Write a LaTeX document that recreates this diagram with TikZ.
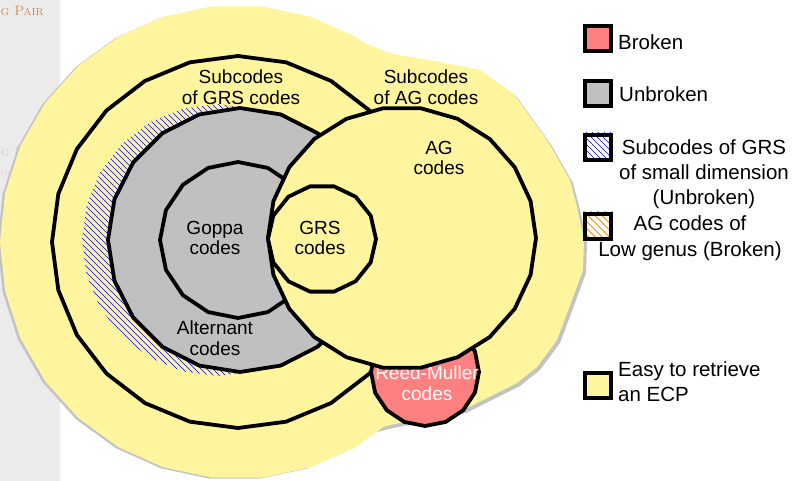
\documentclass[tikz,border=0pt]{standalone}
\usepackage{fontspec}
\newfontfamily\hv{Liberation Sans}
\definecolor{ecpyellow}{RGB}{255,245,158}
\definecolor{unbrgrey}{RGB}{192,192,192}
\definecolor{brokenred}{RGB}{255,128,128}
\definecolor{sidebar}{RGB}{235,235,235}
\definecolor{shadowgrey}{RGB}{195,195,195}
\definecolor{hatchorange}{RGB}{255,140,0}
\definecolor{sidetan}{RGB}{200,140,90}
\definecolor{sidefaint}{RGB}{222,205,190}
\definecolor{sideorange}{RGB}{210,135,85}
\begin{document}
\begin{tikzpicture}[x=1pt,y=-1pt,
  outl/.style={line width=3.8pt, line join=round},
  lab/.style={font=\hv\fontsize{19}{20.5}\selectfont, align=center, inner sep=0pt},
  leg/.style={font=\hv\fontsize{20.5}{25}\selectfont, inner sep=0pt},
  legbox/.style={draw, line width=4pt, minimum width=26pt, minimum height=25pt, inner sep=0pt},
  hline/.style={line width=0.55pt},
  sidetxt/.style={inner sep=0pt, font=\fontsize{13.5}{16}\selectfont}
]
\useasboundingbox (0,0) rectangle (800,481);
% sidebar
\fill[sidebar] (0,0) rectangle (60,481);
\node[sidetxt, anchor=base west, text=sidetan] (sb1) at (0.5,16) {\textsc{g Pair}};
\node[sidetxt, anchor=base west, text=sidefaint] (sb2) at (0.5,157) {\textsc{g P}};
\node[sidetxt, anchor=base west, text=sidefaint, font=\fontsize{8}{9}\selectfont] (sb3) at (0.5,176) {\textsc{fo}};
\node[sidetxt, anchor=base west, text=sideorange, font=\fontsize{9}{10}\selectfont] (sb4) at (0.5,209) {-I};
% shadows
\fill[shadowgrey, shift={(-2.5,1)}] plot[domain=0:348, samples=30] ({237+237*cos(\x)},{242+237*sin(\x)}) -- cycle;
\fill[shadowgrey, shift={(3,3)}] (300,30) -- (345,38) -- (372,46) -- (392,54) -- (440,62) -- (480,70) -- (513,93) -- (547,140) -- (570,180) -- (577,207) -- (584,240) -- (583,270) -- (572,300) -- (557,340) -- (537,367) -- (517,383) -- (483,400) -- (463,410) -- (440,415) -- (390,425) -- (330,440) -- (300,240) -- cycle;
% outer yellow region
\fill[ecpyellow] plot[domain=0:348, samples=30] ({237+237*cos(\x)},{242+237*sin(\x)}) -- cycle;
\fill[ecpyellow] (300,30) -- (345,38) -- (372,46) -- (392,54) -- (440,62) -- (480,70) -- (513,93) -- (547,140) -- (570,180) -- (577,207) -- (584,240) -- (583,270) -- (572,300) -- (557,340) -- (537,367) -- (517,383) -- (483,400) -- (463,410) -- (440,415) -- (390,425) -- (330,440) -- (300,240) -- cycle;
% subcodes of GRS codes
\draw[outl, fill=ecpyellow] plot[domain=0:345, samples=24] ({238+186*cos(\x)},{242+186*sin(\x)}) -- cycle;
% hatched crescent (small dimension)
\begin{scope}
  \clip plot[domain=0:345, samples=24] ({218+136*cos(\x)},{240+136*sin(\x)}) -- cycle;
  \foreach \c in {-300,-294,...,260} \draw[hline, blue] (\c-50,-50) -- (\c+500,500);
\end{scope}
% alternant codes
\draw[outl, fill=unbrgrey] plot[domain=0:342, samples=20] ({240+132*cos(\x)},{240+132*sin(\x)}) -- cycle;
% goppa codes
\draw[outl, fill=unbrgrey] plot[domain=0:337.5, samples=16] ({238+78*cos(\x)},{240+78*sin(\x)}) -- cycle;
% Reed-Muller
\draw[outl, fill=brokenred] plot[domain=0:337.5, samples=16] ({425+54*cos(\x)},{372+54*sin(\x)}) -- cycle;
\node[lab, text=white] (rm) at (427,383) {Reed-Muller\\codes};
% AG codes
\draw[outl, fill=ecpyellow] plot[domain=0:343.64, samples=22] ({402+134*cos(\x)},{238+131*sin(\x)}) -- cycle;
% GRS codes
\draw[outl, fill=ecpyellow] plot[domain=0:334.29, samples=14] ({322+54*cos(\x)},{239+54*sin(\x)}) -- cycle;
% labels
\node[lab] (sgrs) at (241,87) {Subcodes\\of GRS codes};
\node[lab] (sag) at (426,87) {Subcodes\\of AG codes};
\node[lab] (ag) at (439,158) {AG\\codes};
\node[lab] (grs) at (320,238) {GRS\\codes};
\node[lab] (gop) at (215,238) {Goppa\\codes};
\node[lab] (alt) at (215,338) {Alternant\\codes};
% legend
\node[legbox, fill=brokenred] (lb1) at (598,39) {};
\node[leg, anchor=base west] (lt1) at (618,49.5) {Broken};
\node[legbox, fill=unbrgrey] (lb2) at (598,94) {};
\node[leg, anchor=base west] (lt2) at (619,101.7) {Unbroken};
\node[legbox, fill=white] (lb3) at (598,147.5) {};
\begin{scope}
  \clip (lb3.south west) rectangle (lb3.north east);
  \foreach \c in {400,406,...,500} \draw[hline, blue] (\c+100,100) -- (\c+200,200);
\end{scope}
\node[legbox] at (lb3) {};
\node[leg, align=center] (lt3) at (704,174) {Subcodes of GRS\\of small dimension\\(Unbroken)};
\node[legbox, fill=white] (lb4) at (598,226) {};
\begin{scope}
  \clip (lb4.south west) rectangle (lb4.north east);
  \foreach \c in {330,337.07,...,420} \draw[hline, line width=0.9pt, hatchorange] (\c+150,150) -- (\c+300,300);
\end{scope}
\node[legbox] at (lb4) {};
\node[leg, align=center, font=\hv\fontsize{20.5}{26}\selectfont] (lt4) at (690,238) {AG codes of\\Low genus (Broken)};
\node[legbox, fill=ecpyellow] (lb5) at (598,385) {};
\node[leg, align=left, anchor=west] (lt5) at (618,382) {Easy to retrieve\\an ECP};
\end{tikzpicture}
\end{document}
